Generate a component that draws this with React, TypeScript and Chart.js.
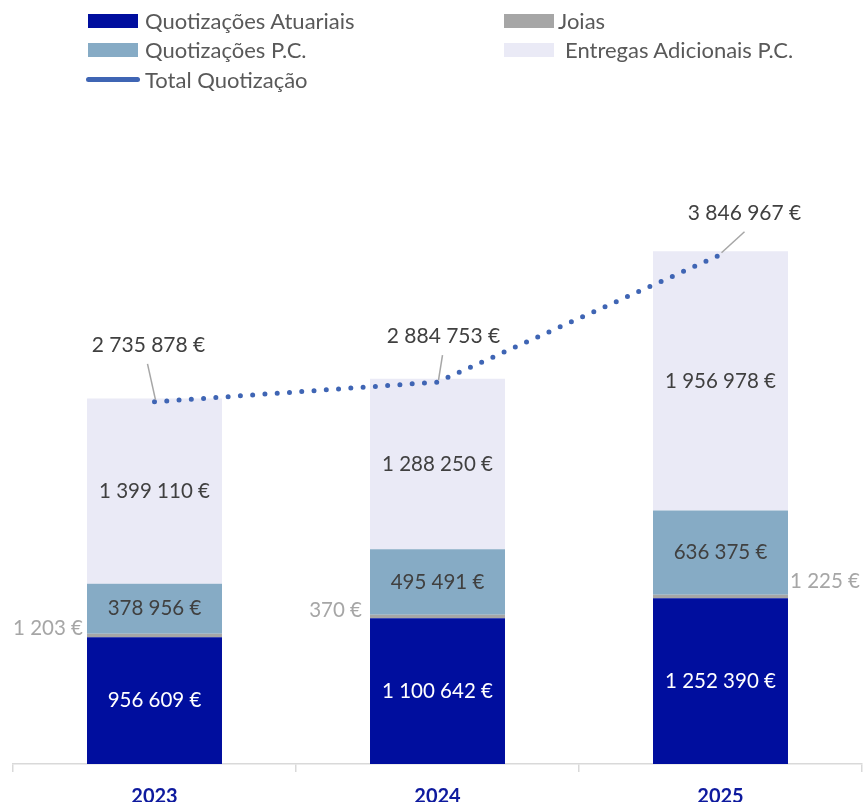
import React, { useEffect, useRef } from "react";
import { Chart, registerables } from "chart.js";

Chart.register(...registerables);

const years = ["2023", "2024", "2025"];
const quotizacoesAtuariais = [956609, 1100642, 1252390];
const joias = [1203, 370, 1225];
const quotizacoesPC = [378956, 495491, 636375];
const entregasAdicionaisPC = [1399110, 1288250, 1956978];
const totalQuotizacao = [2735878, 2884753, 3846967];

const legendLabels = [
  "Quotizações Atuariais",
  "Joias",
  "Quotizações P.C.",
  "Entregas Adicionais P.C.",
  "Total Quotização",
];

const C_ATU = "#000E9E";
const C_JOIAS = "#A6A6A6";
const C_PC = "#86ABC5";
const C_ENT = "#EAEAF6";
const C_LINE = "#3F65B4";
const C_TEXT = "#404040";
const FONT = "Lato, 'Open Sans', sans-serif";

const fmt = (n: number) =>
  Math.round(n).toString().replace(/\B(?=(\d{3})+(?!\d))/g, " ") + " €";

// offsets for the small Joias labels and the total callouts (styling only)
const joiasOffsets = [
  { dx: -4, dy: -9, align: "right" },
  { dx: -8, dy: -8, align: "right" },
  { dx: 2, dy: -17, align: "left" },
];
const totalOffsets = [
  { lx: -6, ly: -57, ex: -7, ey: -38 },
  { lx: 6, ly: -46, ex: 5, ey: -27 },
  { lx: 24, ly: -41, ex: 24, ey: -23 },
];

const labelPlugin = {
  id: "valueLabels",
  afterDatasetsDraw(chart: any) {
    const ctx = chart.ctx;
    ctx.save();
    ctx.textBaseline = "middle";
    chart.data.datasets.forEach((ds: any, di: number) => {
      const meta = chart.getDatasetMeta(di);
      if (meta.hidden) return;
      meta.data.forEach((el: any, i: number) => {
        const p = el.getProps(["x", "y", "base"], true);
        const v = ds.data[i] as number;
        const kind = ds.labelKind;
        if (kind === "total") {
          const o = totalOffsets[i];
          ctx.strokeStyle = "#A6A6A6";
          ctx.lineWidth = 1.5;
          ctx.beginPath();
          ctx.moveTo(p.x + 1, p.y - 2);
          ctx.lineTo(p.x + o.ex, p.y + o.ey);
          ctx.stroke();
          ctx.font = `21px ${FONT}`;
          ctx.fillStyle = C_TEXT;
          ctx.textAlign = "center";
          ctx.fillText(fmt(v), p.x + o.lx, p.y + o.ly);
        } else if (kind === "joias") {
          const o = joiasOffsets[i];
          const half = el.width / 2;
          ctx.font = `20.5px ${FONT}`;
          ctx.fillStyle = "#A6A6A6";
          ctx.textAlign = o.align;
          const x = o.align === "right" ? p.x - half + o.dx : p.x + half + o.dx;
          ctx.fillText(fmt(v), x, p.base + o.dy);
        } else {
          ctx.font = `20.5px ${FONT}`;
          ctx.fillStyle = kind === "white" ? "#FFFFFF" : C_TEXT;
          ctx.textAlign = "center";
          ctx.fillText(fmt(v), p.x, (p.y + p.base) / 2);
        }
      });
    });
    ctx.restore();
  },
};

function Legend() {
  const swatch = (left: number, top: number, color: string) => (
    <div
      style={{ position: "absolute", left, top, width: 50, height: 14, background: color }}
    />
  );
  const text = (left: number, cy: number, t: string) => (
    <div
      style={{
        position: "absolute",
        left,
        top: cy - 13,
        height: 26,
        lineHeight: "26px",
        fontFamily: FONT,
        fontSize: 22,
        color: "#595959",
        whiteSpace: "nowrap",
      }}
    >
      {t}
    </div>
  );
  return (
    <>
      {swatch(88, 14, C_ATU)}
      {text(145, 21, legendLabels[0])}
      {swatch(504, 14, C_JOIAS)}
      {text(558, 21, legendLabels[1])}
      {swatch(88, 43, C_PC)}
      {text(145, 50, legendLabels[2])}
      {swatch(504, 43, C_ENT)}
      {text(565, 50, legendLabels[3])}
      <div
        style={{
          position: "absolute",
          left: 86,
          top: 77,
          width: 54,
          height: 5,
          borderRadius: 3,
          background: C_LINE,
        }}
      />
      {text(145, 80, legendLabels[4])}
    </>
  );
}

export default function App() {
  const ref = useRef<HTMLCanvasElement | null>(null);

  useEffect(() => {
    if (!ref.current) return;
    const chart = new Chart(ref.current, {
      type: "bar",
      data: {
        labels: years,
        datasets: [
          {
            type: "line",
            label: legendLabels[4],
            data: totalQuotizacao,
            stack: "total",
            order: 0,
            borderColor: C_LINE,
            borderWidth: 5,
            borderDash: [0, 12.3],
            borderCapStyle: "round",
            pointRadius: 0,
            tension: 0,
            fill: false,
            labelKind: "total",
          } as any,
          {
            label: legendLabels[0],
            data: quotizacoesAtuariais,
            backgroundColor: C_ATU,
            stack: "s",
            order: 1,
            labelKind: "white",
          } as any,
          {
            label: legendLabels[1],
            data: joias,
            backgroundColor: C_JOIAS,
            stack: "s",
            order: 1,
            minBarLength: 3.5,
            labelKind: "joias",
          } as any,
          {
            label: legendLabels[2],
            data: quotizacoesPC,
            backgroundColor: C_PC,
            stack: "s",
            order: 1,
            labelKind: "dark",
          } as any,
          {
            label: legendLabels[3],
            data: entregasAdicionaisPC,
            backgroundColor: C_ENT,
            stack: "s",
            order: 1,
            labelKind: "dark",
          } as any,
        ],
      },
      options: {
        animation: false,
        responsive: true,
        maintainAspectRatio: false,
        datasets: {
          bar: { barPercentage: 0.477, categoryPercentage: 1 },
        },
        layout: { padding: { top: 155, left: 13, right: 1, bottom: 0 } },
        plugins: {
          legend: { display: false },
          tooltip: { enabled: false },
        },
        scales: {
          x: {
            stacked: true,
            offset: true,
            afterFit: (scale: any) => {
              scale.height = 38;
            },
            grid: {
              offset: true,
              display: true,
              drawOnChartArea: false,
              drawTicks: true,
              tickLength: 8,
              color: "#D9D9D9",
              lineWidth: 1.5,
            },
            border: { display: true, color: "#D9D9D9", width: 1.5 },
            ticks: {
              padding: 15,
              color: "#0E1A9E",
              font: { family: FONT, size: 20, weight: "bold", lineHeight: 1 },
            },
          },
          y: {
            stacked: true,
            display: false,
            min: 0,
            max: 4600000,
          },
        },
      },
      plugins: [labelPlugin],
    });
    return () => chart.destroy();
  }, []);

  return (
    <div
      style={{ position: "absolute", left: 0, top: 0, width: 863, height: 802, background: "#fff" }}
    >
      <div style={{ position: "absolute", left: 0, top: 0, width: 863, height: 802 }}>
        <canvas ref={ref} />
      </div>
      <Legend />
    </div>
  );
}
